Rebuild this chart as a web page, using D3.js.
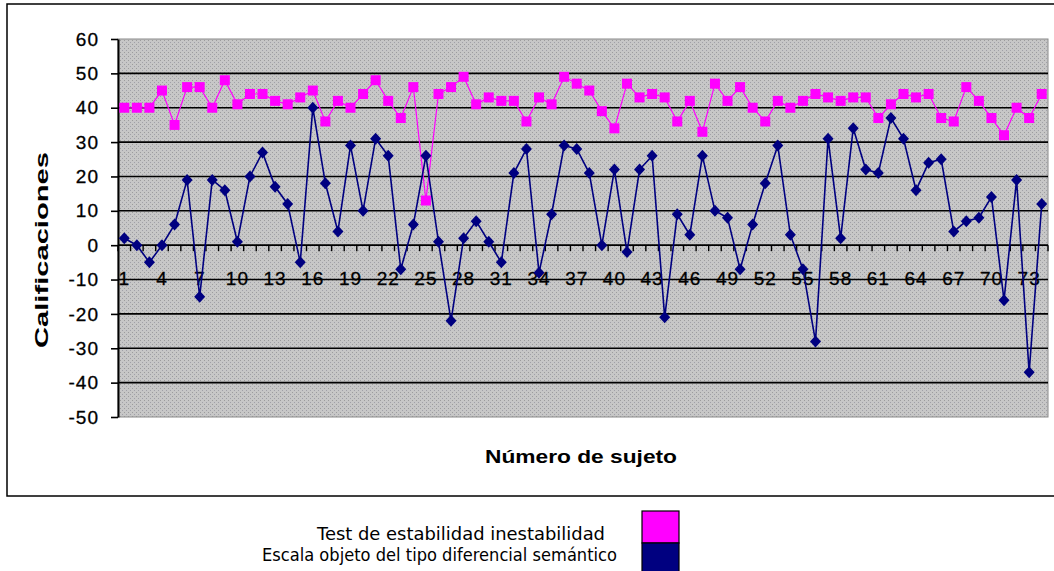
<!DOCTYPE html>
<html><head><meta charset="utf-8">
<script src="https://cdn.jsdelivr.net/npm/d3@7"></script>
<style>body{margin:0;background:#fff}svg{display:block}</style>
</head><body>
<svg id="c" width="1054" height="571"></svg>
<script>
const subjects = d3.range(1, 75);
const testEstabilidad = [40,40,40,45,35,46,46,40,48,41,44,44,42,41,43,45,36,42,40,44,48,42,37,46,13,44,46,49,41,43,42,42,36,43,41,49,47,45,39,34,47,43,44,43,36,42,33,47,42,46,40,36,42,40,42,44,43,42,43,43,37,41,44,43,44,37,36,46,42,37,32,40,37,44];
const escalaObjeto = [2,0,-5,0,6,19,-15,19,16,1,20,27,17,12,-5,40,18,4,29,10,31,26,-7,6,26,1,-22,2,7,1,-5,21,28,-8,9,29,28,21,0,22,-2,22,26,-21,9,3,26,10,8,-7,6,18,29,3,-7,-28,31,2,34,22,21,37,31,16,24,25,4,7,8,14,-16,19,-37,12];
const yTicks = [60,50,40,30,20,10,0,-10,-20,-30,-40,-50];
const xTickLabels = d3.range(1, 75, 3);
const seriesNames = ["Test de estabilidad inestabilidad", "Escala objeto del tipo diferencial semántico"];
const seriesColors = ["#ff00ff", "#000080"];

const svg = d3.select("#c");
const L = 118, R = 1048, T = 39, B = 417;
const x = d3.scaleBand().domain(subjects).range([L, R]).padding(0);
const y = d3.scaleLinear().domain([-50, 60]).range([B, T]);
const cx = d => x(d) + x.bandwidth() / 2;
const tickFont = "Liberation Sans, Arial, sans-serif";

// outer border
svg.append("rect").attr("x", 7).attr("y", 4).attr("width", 1070).attr("height", 492)
  .attr("fill", "none").attr("stroke", "#000").attr("stroke-width", 1.5);

// background pattern
const defs = svg.append("defs");
const pat = defs.append("pattern").attr("id", "dots").attr("width", 4).attr("height", 4)
  .attr("patternUnits", "userSpaceOnUse");
pat.append("rect").attr("width", 4).attr("height", 4).attr("fill", "#c7c7c7");
pat.append("rect").attr("x", 0).attr("y", 0).attr("width", 1).attr("height", 1).attr("fill", "#9c9c9c");
pat.append("rect").attr("x", 2).attr("y", 2).attr("width", 1).attr("height", 1).attr("fill", "#a0a0a8");

svg.append("rect").attr("x", L).attr("y", T).attr("width", R - L).attr("height", B - T)
  .attr("fill", "url(#dots)").attr("stroke", "#8a8a8a").attr("stroke-width", 1);

// gridlines
svg.append("g").selectAll("line").data(yTicks.filter(v => v !== 60 && v !== -50)).join("line")
  .attr("x1", L).attr("x2", R).attr("y1", d => y(d)).attr("y2", d => y(d))
  .attr("stroke", "#000").attr("stroke-width", 1.6);

// y axis
const yAxis = svg.append("g").attr("transform", `translate(${L},0)`)
  .call(d3.axisLeft(y).tickValues(yTicks).tickFormat(d => String(d))
    .tickSize(7).tickSizeOuter(0).tickPadding(12));
yAxis.select(".domain").attr("stroke", "#000").attr("stroke-width", 2);
yAxis.selectAll(".tick line").attr("stroke", "#000").attr("stroke-width", 1.6);
yAxis.selectAll(".tick text").attr("font-family", tickFont)
  .attr("font-size", 19).attr("letter-spacing", 1).attr("fill", "#000")
  .attr("stroke", "#000").attr("stroke-width", 0.3);

// x axis at y=0
const xAxisG = svg.append("g").attr("transform", `translate(0,${y(0)})`);
xAxisG.append("line").attr("x1", L).attr("x2", R).attr("stroke", "#000").attr("stroke-width", 1.6);
xAxisG.selectAll("line.tk").data(subjects.concat([75])).join("line").attr("class", "tk")
  .attr("x1", d => d === 75 ? R : x(d)).attr("x2", d => d === 75 ? R : x(d))
  .attr("y1", 0).attr("y2", 6).attr("stroke", "#000").attr("stroke-width", 1.4);
xAxisG.selectAll("text").data(xTickLabels).join("text")
  .attr("x", d => cx(d)).attr("y", 40).attr("text-anchor", "middle")
  .attr("font-family", tickFont).attr("font-size", 19).attr("letter-spacing", 1).attr("fill", "#000")
  .attr("stroke", "#000").attr("stroke-width", 0.3)
  .text(d => d);

// lines
const line = d3.line().x((d, i) => cx(subjects[i])).y(d => y(d));
svg.append("path").datum(testEstabilidad).attr("d", line)
  .attr("fill", "none").attr("stroke", seriesColors[0]).attr("stroke-width", 1.2);
svg.append("g").selectAll("rect").data(testEstabilidad).join("rect")
  .attr("x", (d, i) => cx(subjects[i]) - 5).attr("y", d => y(d) - 5)
  .attr("width", 10).attr("height", 10).attr("fill", seriesColors[0]);

svg.append("path").datum(escalaObjeto).attr("d", line)
  .attr("fill", "none").attr("stroke", seriesColors[1]).attr("stroke-width", 1.6);
svg.append("g").selectAll("path").data(escalaObjeto).join("path")
  .attr("d", (d, i) => {
    const px = cx(subjects[i]), py = y(d);
    return `M${px},${py - 6}L${px + 5.5},${py}L${px},${py + 6}L${px - 5.5},${py}Z`;
  })
  .attr("fill", seriesColors[1]);

// axis titles
svg.append("text").attr("transform", "translate(48,250) rotate(-90)")
  .attr("text-anchor", "middle").attr("font-family", tickFont)
  .attr("font-weight", "bold").attr("font-size", 18).attr("fill", "#000")
  .attr("textLength", 196).attr("lengthAdjust", "spacingAndGlyphs").text("Calificaciones");
svg.append("text").attr("x", 581).attr("y", 463)
  .attr("text-anchor", "middle").attr("font-family", tickFont)
  .attr("font-weight", "bold").attr("font-size", 18).attr("fill", "#000")
  .attr("textLength", 192).attr("lengthAdjust", "spacingAndGlyphs").text("Número de sujeto");

// legend
const legY = [511, 543];
svg.append("g").selectAll("rect").data(seriesNames).join("rect")
  .attr("x", 642).attr("y", (d, i) => legY[i]).attr("width", 37).attr("height", 32)
  .attr("fill", (d, i) => seriesColors[i]).attr("stroke", "#000").attr("stroke-width", 1.2);
const legEnd = [605, 617];
const legLen = [288, 355];
const legBase = [540, 561];
svg.append("g").selectAll("text").data(seriesNames).join("text")
  .attr("x", (d, i) => legEnd[i] - legLen[i]).attr("y", (d, i) => legBase[i])
  .attr("font-family", "DejaVu Sans, sans-serif").attr("font-size", 17).attr("fill", "#000")
  .attr("textLength", (d, i) => legLen[i]).attr("lengthAdjust", "spacingAndGlyphs")
  .text(d => d);
</script>
</body></html>
